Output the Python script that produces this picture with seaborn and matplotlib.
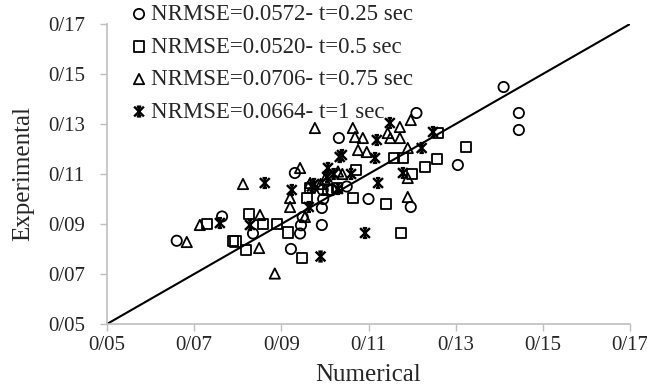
import numpy as np
import pandas as pd
import matplotlib
matplotlib.use("Agg")
import matplotlib.pyplot as plt
import seaborn as sns
from matplotlib.markers import MarkerStyle
from matplotlib.path import Path

# data (Numerical vs Experimental)
circle_x = [0.0660, 0.0764, 0.0835, 0.0922, 0.0943, 0.0945, 0.0949, 0.0931, 0.0993, 0.0993,
            0.0996, 0.0995, 0.1032, 0.1100, 0.1197, 0.1210, 0.1305, 0.1410, 0.1445, 0.1445,
            0.1050, 0.1015]
circle_y = [0.0833, 0.0930, 0.0862, 0.0800, 0.0862, 0.0895, 0.0928, 0.1104, 0.0896, 0.0964,
            0.1000, 0.1036, 0.1244, 0.1000, 0.0968, 0.1344, 0.1136, 0.1448, 0.1344, 0.1276,
            0.1050, 0.1035]

square_x = [0.0729, 0.0789, 0.0795, 0.0826, 0.0819, 0.0858, 0.0890, 0.0915, 0.0947, 0.0959,
            0.0966, 0.1007, 0.1028, 0.1064, 0.1071, 0.1140, 0.1174, 0.1158, 0.1179, 0.1200,
            0.1229, 0.1257, 0.1259, 0.1323]
square_y = [0.0900, 0.0832, 0.0830, 0.0940, 0.0796, 0.0900, 0.0900, 0.0866, 0.0764, 0.1004,
            0.1044, 0.1036, 0.1044, 0.1004, 0.1116, 0.0980, 0.0864, 0.1164, 0.1164, 0.1100,
            0.1128, 0.1160, 0.1264, 0.1208]

tri_x = [0.0683, 0.0713, 0.0812, 0.0851, 0.0849, 0.0885, 0.0920, 0.0920, 0.0943, 0.0954,
         0.0966, 0.0977, 0.0990, 0.1000, 0.1064, 0.1069, 0.1087, 0.1076, 0.1096, 0.1144,
         0.1150, 0.1172, 0.1172, 0.1190, 0.1197, 0.1190, 0.1190, 0.1030, 0.1040]
tri_y = [0.0828, 0.0896, 0.1060, 0.0936, 0.0804, 0.0702, 0.1004, 0.0968, 0.1124, 0.0928,
         0.1064, 0.1284, 0.1060, 0.1080, 0.1284, 0.1248, 0.1244, 0.1196, 0.1188, 0.1264,
         0.1244, 0.1288, 0.1244, 0.1204, 0.1316, 0.1084, 0.1008, 0.1110, 0.1100]

star_x = [0.0759, 0.0828, 0.0862, 0.0924, 0.0963, 0.0990, 0.1007, 0.1034, 0.1039, 0.1005,
          0.1020, 0.1030, 0.1092, 0.1119, 0.1115, 0.1122, 0.1149, 0.1179, 0.1222, 0.1248,
          0.0975, 0.0970, 0.1060]
star_y = [0.0904, 0.0896, 0.1064, 0.1036, 0.0968, 0.0770, 0.1124, 0.1168, 0.1176, 0.1088,
          0.1100, 0.1040, 0.0864, 0.1236, 0.1164, 0.1064, 0.1304, 0.1104, 0.1204, 0.1268,
          0.1060, 0.1050, 0.1100]

labels = ["NRMSE=0.0572- t=0.25 sec", "NRMSE=0.0520- t=0.5 sec",
          "NRMSE=0.0706- t=0.75 sec", "NRMSE=0.0664- t=1 sec"]

tick_vals = [0.05, 0.07, 0.09, 0.11, 0.13, 0.15, 0.17]
tick_labels = ["0/05", "0/07", "0/09", "0/11", "0/13", "0/15", "0/17"]

# excel style star: X + vertical bar + short caps
star_path = Path(
    [(-1, -1), (1, 1), (-1, 1), (1, -1), (0, -1), (0, 1),
     (-0.45, 1), (0.45, 1), (-0.45, -1), (0.45, -1)],
    [Path.MOVETO, Path.LINETO] * 5,
)

sns.set_style("white")
plt.rcParams["font.family"] = "serif"
plt.rcParams["font.serif"] = ["Liberation Serif", "Times New Roman", "DejaVu Serif"]

fig = plt.figure(figsize=(6.47, 3.85), dpi=100)
ax = fig.add_axes([107 / 647, 1 - 324 / 385, 523 / 647, 300 / 385])

series = [
    (circle_x, circle_y, MarkerStyle("o", fillstyle="none"), 55, 1.3),
    (square_x, square_y, MarkerStyle("s", fillstyle="none"), 55, 1.3),
    (tri_x, tri_y, MarkerStyle("^", fillstyle="none"), 55, 1.3),
    (star_x, star_y, MarkerStyle(star_path, fillstyle="none"), 50, 1.7),
]
for (xs, ys, mk, s, lw), lab in zip(series, labels):
    sns.scatterplot(x=xs, y=ys, marker=mk, s=s, color="black", edgecolor="black",
                    linewidth=lw, label=lab, ax=ax, zorder=3, legend=False)

sns.lineplot(x=[0.05, 0.17], y=[0.05, 0.17], color="black", linewidth=1.5, ax=ax, zorder=2)

ax.set_xlim(0.05, 0.17)
ax.set_ylim(0.05, 0.17)
ax.set_xticks(tick_vals)
ax.set_xticklabels(tick_labels)
ax.set_yticks(tick_vals)
ax.set_yticklabels(tick_labels)
ax.tick_params(axis="both", labelsize=15, length=5, width=1, color="#bfbfbf",
               direction="out", bottom=True, left=True)
ax.tick_params(axis="x", pad=4)
ax.tick_params(axis="y", pad=11)

for side in ["top", "right"]:
    ax.spines[side].set_visible(False)
for side in ["left", "bottom"]:
    ax.spines[side].set_color("#bfbfbf")
    ax.spines[side].set_linewidth(1.2)

ax.set_xlabel("Numerical", fontsize=18, labelpad=6)
ax.set_ylabel("Experimental", fontsize=18, labelpad=10)

handles = ax.collections[:4]
ax.legend(handles, labels, loc="upper left", bbox_to_anchor=(131 / 647, 1 - 4 / 385),
          bbox_transform=fig.transFigure, frameon=False, fontsize=16.5,
          handlelength=0.7, handletextpad=0.18, labelspacing=0.5,
          borderpad=0, borderaxespad=0)

fig.savefig("out.png", dpi=100)
